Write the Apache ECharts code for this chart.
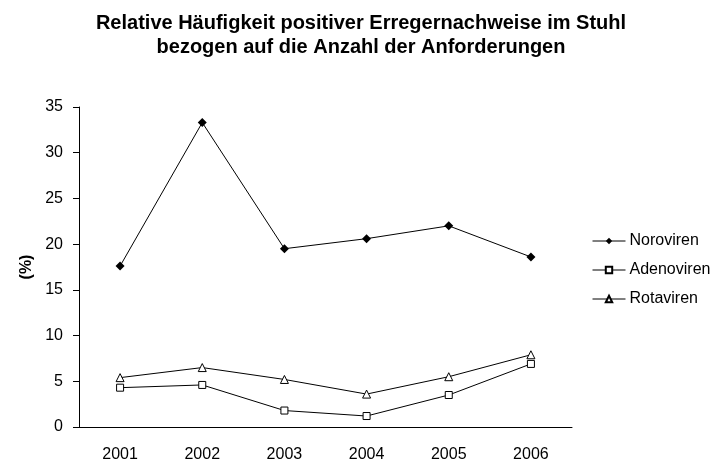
<!DOCTYPE html>
<html><head><meta charset="utf-8">
<script src="https://cdn.jsdelivr.net/npm/echarts@6/dist/echarts.min.js"></script>
<style>html,body{margin:0;padding:0;background:#fff}#c{width:724px;height:465px}</style>
</head><body><div id="c"></div>
<script>
const years = ['2001','2002','2003','2004','2005','2006'];
const noroviren = [17.6, 33.3, 19.5, 20.6, 22.0, 18.6];
const adenoviren = [4.3, 4.6, 1.8, 1.2, 3.5, 6.9];
const rotaviren = [5.4, 6.5, 5.2, 3.6, 5.5, 7.9];
const seriesNames = ['Noroviren','Adenoviren','Rotaviren'];

const font = 'Liberation Sans, Arial, sans-serif';
const chart = echarts.init(document.getElementById('c'));
const lineStyle = {color:'#000', width:1};
chart.setOption({
  animation:false,
  title:{
    text:'Relative Häufigkeit positiver Erregernachweise im Stuhl\nbezogen auf die Anzahl der Anforderungen',
    left:361, top:11, textAlign:'center', padding:0,
    textStyle:{fontFamily:font, fontSize:20, fontWeight:'bold', color:'#000', lineHeight:24}
  },
  legend:{
    orient:'vertical', left:592, top:232, padding:0, itemWidth:33, itemHeight:8, itemGap:11,
    textStyle:{fontFamily:font, fontSize:16, color:'#000', padding:[0,0,0,-1], lineHeight:18},
    lineStyle:{width:1},
    data:seriesNames
  },
  grid:{left:79, right:152, top:107, bottom:38},
  xAxis:{
    type:'category', data:years, boundaryGap:true,
    axisLine:{lineStyle:{color:'#000', width:1}},
    axisTick:{show:false},
    axisLabel:{fontFamily:font, fontSize:16, color:'#000', margin:20}
  },
  yAxis:{
    type:'value', min:0, max:35, interval:5,
    name:'(%)', nameLocation:'middle', nameGap:42, nameRotate:90,
    nameTextStyle:{fontFamily:font, fontSize:16, fontWeight:'bold', color:'#000'},
    axisLine:{show:true, lineStyle:{color:'#000', width:1}},
    axisTick:{show:true, length:6, lineStyle:{color:'#000'}},
    splitLine:{show:false},
    axisLabel:{fontFamily:font, fontSize:16, color:'#000', margin:16}
  },
  series:[
    {name:seriesNames[0], type:'line', data:noroviren, symbol:'diamond', symbolSize:9,
      lineStyle:lineStyle, itemStyle:{color:'#000'}},
    {name:seriesNames[1], type:'line', data:adenoviren, symbol:'rect', symbolSize:7,
      lineStyle:lineStyle, itemStyle:{color:'#fff', borderColor:'#000', borderWidth:1}},
    {name:seriesNames[2], type:'line', data:rotaviren, symbol:'triangle', symbolSize:8,
      lineStyle:lineStyle, itemStyle:{color:'#fff', borderColor:'#000', borderWidth:1}}
  ]
});
</script></body></html>
